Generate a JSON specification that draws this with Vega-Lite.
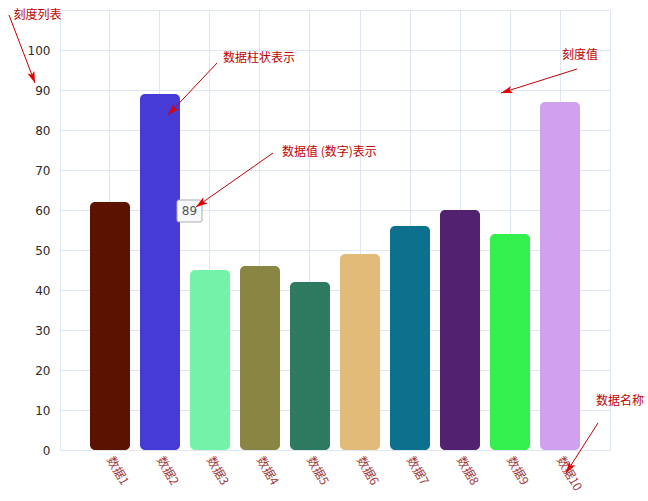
{
  "$schema": "https://vega.github.io/schema/vega-lite/v6.json",
  "width": 550,
  "height": 440,
  "autosize": {"type": "none"},
  "padding": {"left": 60, "top": 10, "right": 38, "bottom": 51},
  "background": "white",
  "datasets": {
    "bars": [
      {"name": "数据1", "value": 62},
      {"name": "数据2", "value": 89},
      {"name": "数据3", "value": 45},
      {"name": "数据4", "value": 46},
      {"name": "数据5", "value": 42},
      {"name": "数据6", "value": 49},
      {"name": "数据7", "value": 56},
      {"name": "数据8", "value": 60},
      {"name": "数据9", "value": 54},
      {"name": "数据10", "value": 87}
    ],
    "notes": [
      {"label": "刻度列表", "pos": -0.93, "value": 108.75},
      {"label": "数据柱状表示", "pos": 3.26, "value": 98},
      {"label": "数据值 (数字)表示", "pos": 4.44, "value": 74.5},
      {"label": "刻度值", "pos": 10.04, "value": 98.75},
      {"label": "数据名称", "pos": 10.72, "value": 12.25}
    ],
    "arrows": [
      {"pos": -1.02, "value": 108.75, "tpos": -0.5, "tvalue": 91.75},
      {"pos": 3.14, "value": 96.75, "tpos": 2.16, "tvalue": 83.75},
      {"pos": 4.26, "value": 74.25, "tpos": 2.72, "tvalue": 60.75},
      {"pos": 10.34, "value": 95.25, "tpos": 8.82, "tvalue": 89.25},
      {"pos": 10.76, "value": 6.75, "tpos": 10.12, "tvalue": -5.75}
    ],
    "tip": [
      {"label": "89", "pos": 2.34, "pos2": 2.84, "value": 62.5, "value2": 57, "mid": 2.59, "midv": 59.75}
    ]
  },
  "layer": [
    {
      "data": {"name": "bars"},
      "mark": {"type": "bar", "cornerRadius": 5},
      "encoding": {
        "x": {
          "field": "name",
          "type": "nominal",
          "sort": null,
          "title": null,
          "scale": {"paddingInner": 0.2, "paddingOuter": 0.6},
          "axis": {
            "labelAngle": 60,
            "labelAlign": "left",
            "labelBaseline": "middle",
            "labelColor": "#a33a3a",
            "labelFont": "Noto Sans CJK SC",
            "labelFontSize": 12,
            "labelPadding": 7,
            "ticks": false,
            "domain": false,
            "grid": true,
            "bandPosition": 0.5,
            "gridColor": "#dde6f2"
          }
        },
        "y": {
          "field": "value",
          "type": "quantitative",
          "title": null,
          "scale": {"domain": [0, 110], "nice": false},
          "axis": {
            "values": [0, 10, 20, 30, 40, 50, 60, 70, 80, 90, 100],
            "ticks": false,
            "domain": false,
            "labelPadding": 10,
            "labelFont": "DejaVu Sans",
            "labelFontSize": 12,
            "labelColor": "#2a2a2a",
            "gridColor": "#dde6f2"
          }
        },
        "color": {
          "field": "name",
          "type": "nominal",
          "legend": null,
          "scale": {
            "domain": ["数据1", "数据2", "数据3", "数据4", "数据5", "数据6", "数据7", "数据8", "数据9", "数据10"],
            "range": ["#5b1300", "#463bd6", "#72f3a9", "#898644", "#2d7a61", "#e3bb78", "#0b718c", "#52216f", "#33f04f", "#cfa1ef"]
          }
        }
      }
    },
    {
      "data": {"name": "tip"},
      "mark": {"type": "rect", "color": "#777777", "opacity": 0.6, "xOffset": 2, "yOffset": 2, "cornerRadius": 2},
      "encoding": {
        "x": {"field": "pos", "type": "quantitative", "axis": null, "scale": {"domain": [0, 11], "nice": false, "zero": false}},
        "x2": {"field": "pos2"},
        "y": {"field": "value", "type": "quantitative", "title": null},
        "y2": {"field": "value2"}
      }
    },
    {
      "data": {"name": "tip"},
      "mark": {"type": "rect", "fill": "#f8f9fc", "stroke": "#aaaaaa", "strokeWidth": 1, "cornerRadius": 2},
      "encoding": {
        "x": {"field": "pos", "type": "quantitative", "axis": null, "scale": {"domain": [0, 11], "nice": false, "zero": false}},
        "x2": {"field": "pos2"},
        "y": {"field": "value", "type": "quantitative", "title": null},
        "y2": {"field": "value2"}
      }
    },
    {
      "data": {"name": "tip"},
      "mark": {"type": "text", "align": "center", "baseline": "middle", "font": "DejaVu Sans", "fontSize": 12, "color": "#555555"},
      "encoding": {
        "x": {"field": "mid", "type": "quantitative", "axis": null, "scale": {"domain": [0, 11], "nice": false, "zero": false}},
        "y": {"field": "midv", "type": "quantitative", "title": null},
        "text": {"field": "label"}
      }
    },
    {
      "data": {"name": "notes"},
      "mark": {"type": "text", "align": "left", "baseline": "middle", "font": "Noto Sans CJK SC", "fontSize": 12, "color": "#c00000"},
      "encoding": {
        "x": {"field": "pos", "type": "quantitative", "axis": null, "scale": {"domain": [0, 11], "nice": false, "zero": false}},
        "y": {"field": "value", "type": "quantitative", "title": null},
        "text": {"field": "label"}
      }
    },
    {
      "data": {"name": "arrows"},
      "mark": {"type": "rule", "color": "#c00000", "strokeWidth": 1},
      "encoding": {
        "x": {"field": "pos", "type": "quantitative", "axis": null, "scale": {"domain": [0, 11], "nice": false, "zero": false}},
        "x2": {"field": "tpos"},
        "y": {"field": "value", "type": "quantitative", "title": null},
        "y2": {"field": "tvalue"}
      }
    },
    {
      "data": {"name": "arrows"},
      "transform": [
        {"calculate": "atan2((datum.tpos - datum.pos) * 50, (datum.tvalue - datum.value) * 4) * 180 / PI", "as": "ang"}
      ],
      "mark": {"type": "point", "shape": "M0,0L0.7,2.2L0,1.7L-0.7,2.2Z", "filled": true, "size": 110, "color": "#e00000", "opacity": 1},
      "encoding": {
        "x": {"field": "tpos", "type": "quantitative", "axis": null, "scale": {"domain": [0, 11], "nice": false, "zero": false}},
        "y": {"field": "tvalue", "type": "quantitative", "title": null},
        "angle": {"field": "ang", "type": "quantitative", "scale": null}
      }
    }
  ],
  "resolve": {"scale": {"x": "independent"}},
  "config": {
    "view": {"stroke": "#dde6f2"},
    "axis": {"gridColor": "#dde6f2"}
  }
}
